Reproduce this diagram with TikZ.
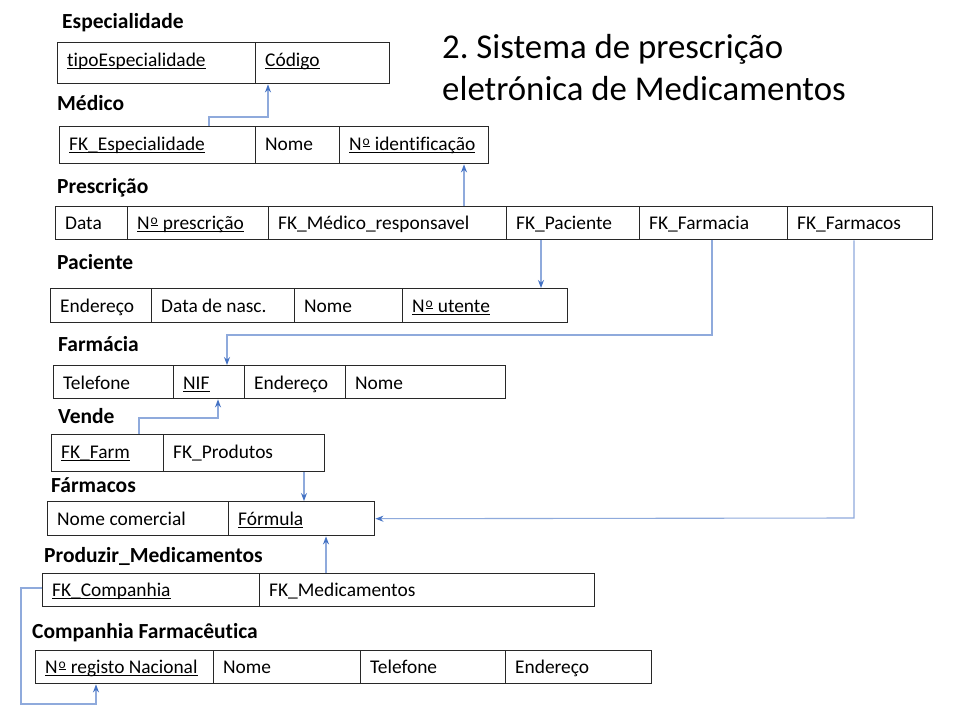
\documentclass[tikz,border=0pt]{standalone}
\usepackage{fontspec}
\setmainfont{Carlito}[Ligatures={NoCommon}]
\usetikzlibrary{arrows.meta}
\definecolor{linkblue}{RGB}{143,170,220}
\definecolor{tipblue}{RGB}{68,114,196}
\definecolor{boxline}{RGB}{40,40,40}
\frenchspacing
\newcommand{\ulin}[1]{\setbox0=\hbox{#1}\rlap{\rule[-2.7pt]{\wd0}{0.9pt}}\box0}
\newcommand{\numo}{N\kern0.8pt\raisebox{4.6pt}{\fontsize{13.5}{14}\selectfont\setbox2=\hbox{o}\rlap{\rule[-1.9pt]{\wd2}{0.9pt}}\box2}\kern0.8pt}
\newcommand{\fld}[7]{%
  \node[cellbox, minimum width=#4, minimum height=#5] (#1) at (#2,#3) {};
  \node[celltxt] (#1t) at (#2+10,#6) {#7};}
\tikzset{
  cellbox/.style={draw=boxline, line width=1.4pt, anchor=north west, inner sep=0pt},
  celltxt/.style={anchor=base west, inner sep=0pt, font=\fontsize{19.4}{23}\selectfont},
  tablabel/.style={anchor=base west, inner sep=0pt, font=\fontsize{21.5}{26}\selectfont\bfseries},
  titletxt/.style={anchor=base west, inner sep=0pt, font=\fontsize{34.8}{42}\selectfont},
  conn/.style={draw=linkblue, line width=1.1pt, -{Stealth[color=tipblue, length=8pt, width=6pt]}}
}
\begin{document}
\begin{tikzpicture}[x=1pt, y=-1pt]
\useasboundingbox[fill=white] (0,0) rectangle (955,718);

% title
\node[titletxt] (title1) at (442,58) {2. Sistema de prescrição};
\node[titletxt] (title2) at (442,100) {eletrónica de Medicamentos};

% Especialidade
\node[tablabel] (lesp) at (62,28) {Especialidade};
\fld{esp1}{57}{42}{198}{41}{66}{\ulin{tipoEspecialidade}}
\fld{esp2}{255}{42}{134}{41}{66}{\ulin{Código}}

% Medico
\node[tablabel] (lmed) at (57,110) {Médico};
\fld{med1}{59}{126}{196}{37}{150}{\ulin{FK\_Especialidade}}
\fld{med2}{255}{126}{84}{37}{150}{Nome}
\fld{med3}{339}{126}{149}{37}{150}{\ulin{\numo\ identificação}}

% Prescricao
\node[tablabel] (lpre) at (57,193) {Prescrição};
\fld{pre1}{55}{206}{72}{33}{229}{Data}
\fld{pre2}{127}{206}{141}{33}{229}{\ulin{\numo\ prescrição}}
\fld{pre3}{268}{206}{238}{33}{229}{FK\_Médico\_responsavel}
\fld{pre4}{506}{206}{133}{33}{229}{FK\_Paciente}
\fld{pre5}{639}{206}{148}{33}{229}{FK\_Farmacia}
\fld{pre6}{787}{206}{145}{33}{229}{FK\_Farmacos}

% Paciente
\node[tablabel] (lpac) at (57,269) {Paciente};
\fld{pac1}{50}{288}{101}{34}{312}{Endereço}
\fld{pac2}{151}{288}{143}{34}{312}{Data de nasc.}
\fld{pac3}{294}{288}{108}{34}{312}{Nome}
\fld{pac4}{402}{288}{165}{34}{312}{\ulin{\numo\ utente}}

% Farmacia
\node[tablabel] (lfma) at (58,351) {Farmácia};
\fld{fma1}{53}{365}{120}{33}{389}{Telefone}
\fld{fma2}{173}{365}{71}{33}{389}{\ulin{NIF}}
\fld{fma3}{244}{365}{101}{33}{389}{Endereço}
\fld{fma4}{345}{365}{160}{33}{389}{Nome}

% Vende
\node[tablabel] (lven) at (58,423) {Vende};
\fld{ven1}{51}{434}{112}{37}{458}{\ulin{FK\_Farm}}
\fld{ven2}{163}{434}{161}{37}{458}{FK\_Produtos}

% Farmacos
\node[tablabel] (lfrm) at (51,492) {Fármacos};
\fld{frm1}{47}{501}{181}{34}{525}{Nome comercial}
\fld{frm2}{228}{501}{146}{34}{525}{\ulin{Fórmula}}

% Produzir_Medicamentos
\node[tablabel] (lpro) at (44,562) {Produzir\_Medicamentos};
\fld{pro1}{42}{573}{217}{33}{596}{\ulin{FK\_Companhia}}
\fld{pro2}{259}{573}{335}{33}{596}{FK\_Medicamentos}

% Companhia Farmaceutica
\node[tablabel] (lcom) at (32,638) {Companhia Farmacêutica};
\fld{com1}{35}{650}{178}{33}{673}{\ulin{\numo\ registo Nacional}}
\fld{com2}{213}{650}{147}{33}{673}{Nome}
\fld{com3}{360}{650}{145}{33}{673}{Telefone}
\fld{com4}{505}{650}{146}{33}{673}{Endereço}

% connectors
\coordinate (c1) at (209,117);
\draw[conn] (209,0 |- med1.north) |- (c1) -| (268,0 |- esp2.south);
\draw[conn] (464,0 |- pre3.north) -- (464,0 |- med3.south);
\draw[conn] (541,0 |- pre4.south) -- (541,0 |- pac4.north);
\coordinate (c2) at (712,335);
\draw[conn] (712,0 |- pre5.south) -- (c2) -| (227,0 |- fma2.north);
\coordinate (c3) at (139,418);
\draw[conn] (139,0 |- ven1.north) |- (c3) -| (218,0 |- fma2.south);
\draw[conn] (304,0 |- ven2.south) -- (304,0 |- frm2.north);
\coordinate (c4) at (854,518);
\draw[conn] (854,0 |- pre6.south) -- (c4) -- (frm2.east);
\draw[conn] (326,0 |- pro2.north) -- (326,0 |- frm2.south);
\coordinate (c5) at (21,588);
\coordinate (c6) at (21,704);
\draw[conn] (pro1.west |- c5) -- (c5) -- (c6) -| (96,0 |- com1.south);
\end{tikzpicture}
\end{document}
